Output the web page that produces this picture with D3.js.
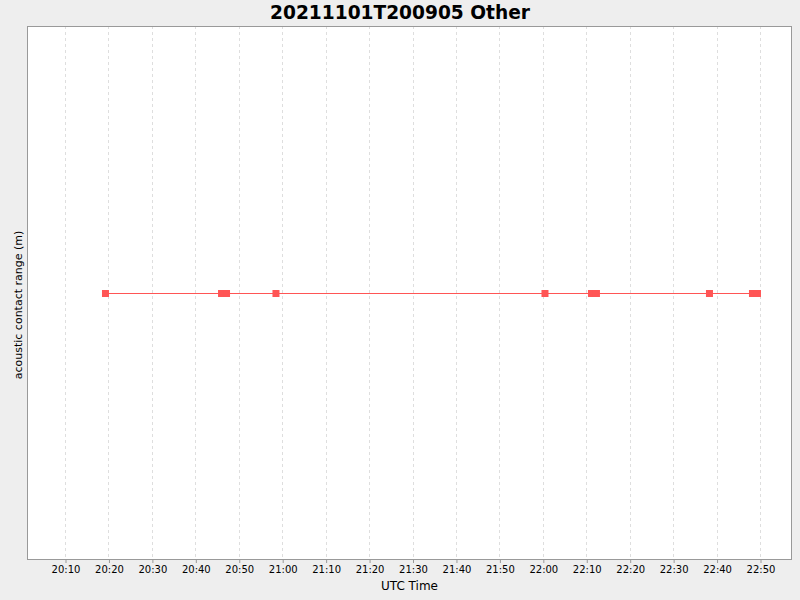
<!DOCTYPE html>
<html>
<head>
<meta charset="utf-8">
<script src="https://cdn.jsdelivr.net/npm/d3@7"></script>
<style>
  html, body { margin: 0; padding: 0; background: #eeeeee; }
  svg { display: block; }
</style>
</head>
<body>
<script>
// ---- data ----
const titleText = "20211101T200905 Other";
const xLabel = "UTC Time";
const yLabel = "acoustic contact range (m)";
const times = [
  "2021-11-01T20:19:19Z", "2021-11-01T20:46:02Z", "2021-11-01T20:47:11Z",
  "2021-11-01T20:58:34Z", "2021-11-01T22:00:30Z", "2021-11-01T22:11:12Z",
  "2021-11-01T22:12:21Z", "2021-11-01T22:38:22Z", "2021-11-01T22:48:16Z",
  "2021-11-01T22:49:25Z"
];
const ranges = [0, 0, 0, 0, 0, 0, 0, 0, 0, 0];
const xDomain = ["2021-11-01T20:01:15Z", "2021-11-01T22:57:22Z"];
const tickLabels = ["20:10","20:20","20:30","20:40","20:50","21:00","21:10","21:20","21:30","21:40","21:50","22:00","22:10","22:20","22:30","22:40","22:50"];

// ---- layout ----
const W = 800, H = 600;
const plot = { left: 27, right: 792, top: 26, bottom: 560 };

const svg = d3.select("body").append("svg").attr("width", W).attr("height", H);
svg.append("rect").attr("width", W).attr("height", H).attr("fill", "#eeeeee");

const x = d3.scaleUtc().domain(xDomain.map(d => new Date(d))).range([plot.left, plot.right]);
const y = d3.scaleLinear().domain([-1, 1]).range([plot.bottom, plot.top]);

// plot background
svg.append("rect")
  .attr("x", plot.left).attr("y", plot.top)
  .attr("width", plot.right - plot.left).attr("height", plot.bottom - plot.top)
  .attr("fill", "#ffffff");

const tickDates = tickLabels.map(t => new Date("2021-11-01T" + t + ":00Z"));

// grid lines
svg.append("g").selectAll("line").data(tickDates).join("line")
  .attr("x1", d => Math.round(x(d)) + 0.5).attr("x2", d => Math.round(x(d)) + 0.5)
  .attr("y1", plot.top).attr("y2", plot.bottom)
  .attr("stroke", "#dedede").attr("stroke-width", 1)
  .attr("stroke-dasharray", "3,3");

// plot border
svg.append("rect")
  .attr("x", plot.left + 0.5).attr("y", plot.top + 0.5)
  .attr("width", plot.right - plot.left - 1).attr("height", plot.bottom - plot.top - 1)
  .attr("fill", "none").attr("stroke", "#999999");

// x axis
const xAxis = d3.axisBottom(x)
  .tickValues(tickDates)
  .tickFormat((d, i) => tickLabels[i])
  .tickSizeInner(3).tickSizeOuter(0).tickPadding(3);
const gx = svg.append("g").attr("transform", `translate(0.5,${plot.bottom})`).call(xAxis);
gx.select(".domain").remove();
gx.selectAll(".tick line").attr("stroke", "#999999");
gx.selectAll(".tick text").attr("font-family", "DejaVu Sans, sans-serif").attr("font-size", 10).attr("fill", "#000");

// series line
const pts = times.map((t, i) => ({ t: new Date(t), v: ranges[i] }));
svg.append("path").datum(pts)
  .attr("fill", "none").attr("stroke", "#ff5555").attr("stroke-width", 1)
  .attr("d", d3.line().x(d => x(d.t)).y(d => Math.round(y(d.v)) + 0.5));

// markers
svg.append("g").selectAll("rect").data(pts).join("rect")
  .attr("x", d => x(d.t) - 3.5).attr("y", d => Math.round(y(d.v)) - 3)
  .attr("width", 7).attr("height", 7)
  .attr("fill", "#ff5555");

// title
svg.append("text").attr("x", W / 2).attr("y", 19)
  .attr("text-anchor", "middle").attr("font-family", "DejaVu Sans, sans-serif")
  .attr("font-weight", "bold").attr("font-size", 18.6).attr("fill", "#000")
  .text(titleText);

// axis labels
svg.append("text").attr("x", (plot.left + plot.right) / 2).attr("y", 590)
  .attr("text-anchor", "middle").attr("font-family", "DejaVu Sans, sans-serif")
  .attr("font-size", 12).attr("fill", "#000").text(xLabel);

svg.append("text")
  .attr("transform", `translate(22,${(plot.top + plot.bottom) / 2 + 12}) rotate(-90)`)
  .attr("text-anchor", "middle").attr("font-family", "DejaVu Sans, sans-serif")
  .attr("font-size", 11).attr("fill", "#000").text(yLabel);
</script>
</body>
</html>
